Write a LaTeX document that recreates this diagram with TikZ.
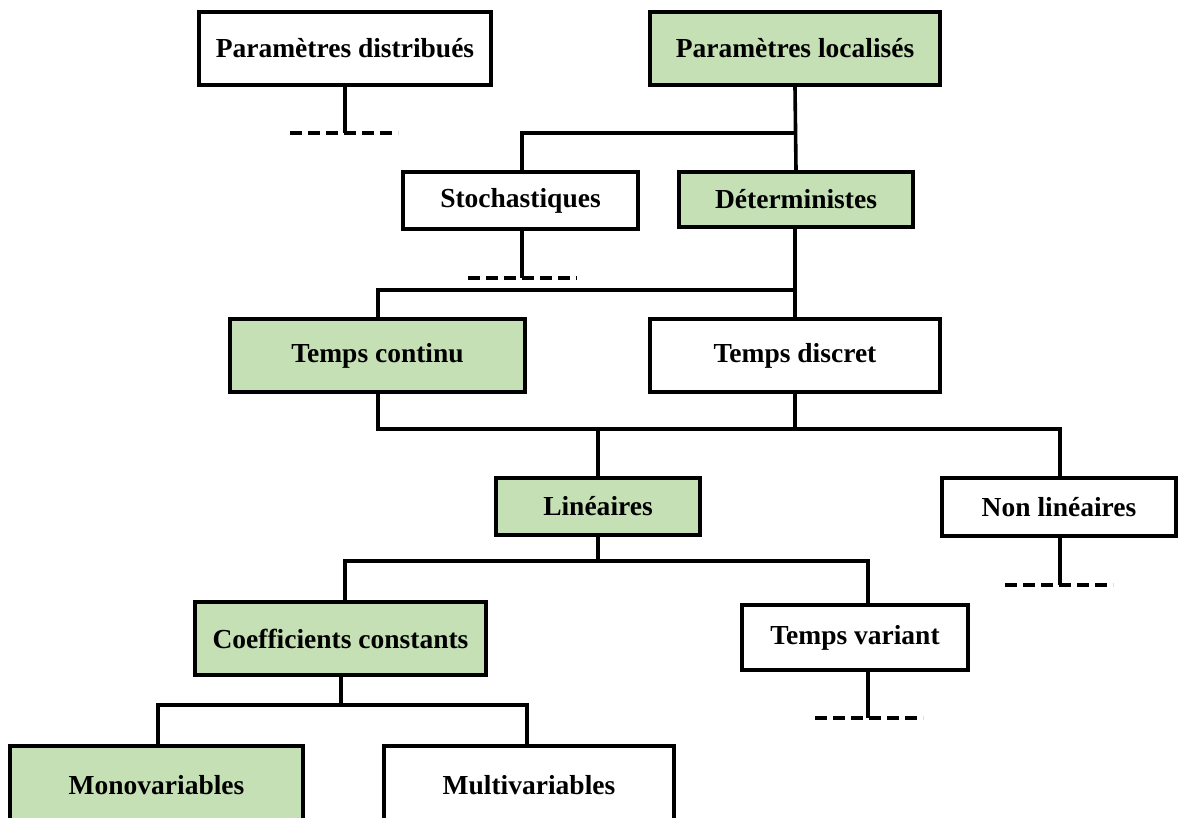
\documentclass[tikz,border=0pt]{standalone}
\usepackage{fontspec}
\setmainfont{Liberation Serif}
\definecolor{lgreen}{HTML}{C5E0B4}
\begin{document}
\begin{tikzpicture}[x=1pt,y=-1pt,
  box/.style={draw=black,line width=4.2pt,fill=white,inner sep=0pt,
    font=\fontsize{27.5}{31}\selectfont\bfseries,align=center},
  gbox/.style={box,fill=lgreen},
  conn/.style={line width=3.6pt},
  dashline/.style={line width=3.6pt,dash pattern=on 12pt off 6pt}]
\clip (0,0) rectangle (1180,818);
\useasboundingbox (0,0) rectangle (1180,818);
\fill[white] (0,0) rectangle (1180,818);
% junction points
\coordinate (j1) at (345,133);
\coordinate (j2) at (795,133);
\coordinate (j2l) at (522,133);
\coordinate (j3) at (522,278);
\coordinate (j4) at (795,290);
\coordinate (j4l) at (378,290);
\coordinate (j5l) at (378,429);
\coordinate (j5m) at (598,429);
\coordinate (j5r) at (795,429);
\coordinate (j5e) at (1060,429);
\coordinate (j6) at (598,561);
\coordinate (j6l) at (345,561);
\coordinate (j6r) at (868,561);
\coordinate (j7) at (1060,585);
\coordinate (j8) at (868,718);
\coordinate (j9) at (341,705);
\coordinate (j9l) at (158,705);
\coordinate (j9r) at (527,705);
% nodes
\node[box,minimum width=292,minimum height=73] (pd) at (345,48.5) {Paramètres distribués};
\node[gbox,minimum width=290,minimum height=73] (pl) at (795,48.5) {Paramètres localisés};
\node[box,minimum width=235,minimum height=57] (st) at (520.5,200.5) {Stochastiques};
\node[gbox,minimum width=234,minimum height=55] (de) at (796,199.5) {Déterministes};
\node[gbox,minimum width=295,minimum height=73] (tc) at (377.5,355.5) {Temps continu};
\node[box,minimum width=290,minimum height=73] (td) at (795,355.5) {Temps discret};
\node[gbox,minimum width=204,minimum height=57] (li) at (598,506.5) {Linéaires};
\node[box,minimum width=234,minimum height=58] (nl) at (1059,507) {Non linéaires};
\node[gbox,minimum width=291,minimum height=73] (cc) at (340.5,638.5) {Coefficients constants};
\node[box,minimum width=226,minimum height=65] (tv) at (855,637.5) {Temps variant};
\node[gbox,minimum width=293,minimum height=78] (mo) at (156.5,785) {Monovariables};
\node[box,minimum width=290,minimum height=78] (mu) at (529,785) {Multivariables};
% lines
\draw[conn] (pd.south) -- (j1);
\draw[dashline] (290,133) -- (398,133);
\draw[conn] (pl.south) -- (de.north);
\draw[conn] (j2) -- (j2l) -- (st.north -| j2l);
\draw[conn] (st.south -| j3) -- (j3);
\draw[dashline] (468,278) -- (577,278);
\draw[conn] (de.south -| j4) -- (td.north -| j4);
\draw[conn] (j4) -- (j4l) -- (tc.north -| j4l);
\draw[conn] (tc.south -| j5l) -- (j5l) -- (j5e) -- (nl.north -| j5e);
\draw[conn] (td.south -| j5r) -- (j5r);
\draw[conn] (j5m) -- (li.north -| j5m);
\draw[conn] (li.south -| j6) -- (j6);
\draw[conn] (cc.north -| j6l) -- (j6l) -- (j6r) -- (tv.north -| j6r);
\draw[conn] (nl.south -| j7) -- (j7);
\draw[dashline] (1005,585) -- (1113,585);
\draw[conn] (tv.south -| j8) -- (j8);
\draw[dashline] (815,718) -- (923,718);
\draw[conn] (cc.south -| j9) -- (j9);
\draw[conn] (mo.north -| j9l) -- (j9l) -- (j9r) -- (mu.north -| j9r);
\end{tikzpicture}
\end{document}
